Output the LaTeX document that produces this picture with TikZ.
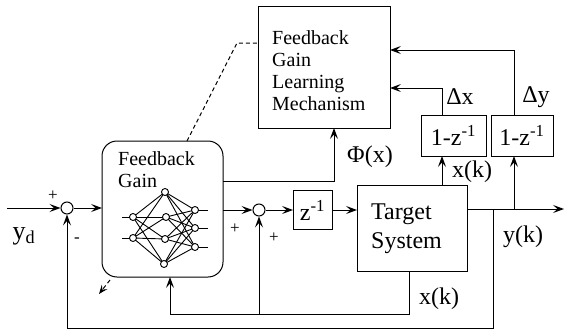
\documentclass[tikz,border=0pt]{standalone}
\usepackage{fontspec}
\setmainfont{Liberation Serif}
\usetikzlibrary{arrows.meta}
\begin{document}
\begin{tikzpicture}[x=1pt,y=-1pt,
  blk/.style={draw, line width=1pt, inner sep=0pt, outer sep=0pt},
  sumc/.style={draw, circle, minimum size=12pt, inner sep=0pt, line width=1pt, fill=white},
  nnode/.style={draw, circle, minimum size=7pt, inner sep=0pt, fill=white, line width=0.9pt},
  arr/.style={-{Stealth[length=11pt,width=8pt,inset=4.5pt]}, line width=1pt},
  dsh/.style={line width=1pt, dash pattern=on 4pt off 3pt},
  lbl/.style={font=\fontsize{24}{28}\selectfont, inner sep=0pt},
  txt/.style={font=\fontsize{20}{22}\selectfont, align=left, inner sep=0pt, anchor=north west},
  sgn/.style={font=\fontsize{17}{18}\selectfont, inner sep=0pt}
]
\useasboundingbox (0,0) rectangle (565,332);

% blocks
\node[blk, minimum width=132pt, minimum height=122pt] (learn) at (324,67) {};
\node[blk, rounded corners=15pt, minimum width=121pt, minimum height=136pt] (nn) at (162.5,209) {};
\node[blk, minimum width=39pt, minimum height=39pt, font=\fontsize{24}{28}\selectfont] (zb) at (312.5,210) {z\textsuperscript{-1}};
\node[blk, minimum width=110pt, minimum height=86pt] (tg) at (412,228) {};
\node[blk, minimum width=65pt, minimum height=41pt, font=\fontsize{24}{28}\selectfont] (dx) at (453.5,135.5) {1-z\textsuperscript{-1}};
\node[blk, minimum width=62pt, minimum height=41pt, font=\fontsize{24}{28}\selectfont] (dy) at (522,135.5) {1-z\textsuperscript{-1}};
\node[sumc] (s1) at (67,208) {};
\node[sumc] (s2) at (259,210) {};

% block texts
\node[txt] (tlearn) at (272,30) {Feedback\\Gain\\Learning\\Mechanism};
\node[txt] (tnn) at (118,151) {Feedback\\Gain};
\node[txt, font=\fontsize{24}{29}\selectfont] (ttg) at (371,204) {Target\\System};

% neural net
\coordinate (i1) at (133,217);
\coordinate (i2) at (133,238);
\coordinate (h1) at (165,192);
\coordinate (h2) at (166,217);
\coordinate (h3) at (165,239);
\coordinate (h4) at (164,264);
\coordinate (o1) at (195,210);
\coordinate (o2) at (195,228);
\coordinate (o3) at (195,247);
\coordinate (a1) at (122,217);
\coordinate (a2) at (122,238);
\coordinate (b1) at (208,210);
\coordinate (b2) at (208,228);
\coordinate (b3) at (208,247);
\foreach \i in {i1,i2} \foreach \h in {h1,h2,h3,h4} \draw[line width=0.9pt] (\i) -- (\h);
\foreach \h in {h1,h2,h3,h4} \foreach \o in {o1,o2,o3} \draw[line width=0.9pt] (\h) -- (\o);
\draw[line width=0.9pt] (a1) -- (i1);
\draw[line width=0.9pt] (a2) -- (i2);
\draw[line width=0.9pt] (o1) -- (b1);
\draw[line width=0.9pt] (o2) -- (b2);
\draw[line width=0.9pt] (o3) -- (b3);
\foreach \n in {i1,i2,h1,h2,h3,h4,o1,o2,o3}
  \node[nnode] (n\n) at (\n) {};

% coordinates
\coordinate (yin) at (7,208);
\coordinate (yout) at (564,209);
\coordinate (by) at (514,209);
\coordinate (bfb) at (493,209);
\coordinate (fbc) at (493,328);
\coordinate (xk1) at (409,314);
\coordinate (xu) at (442,0);
\coordinate (ly) at (0,50);
\coordinate (lx) at (0,88);
\coordinate (phi) at (0,181);
\coordinate (dk) at (237,43);
\coordinate (da) at (110,280);
\coordinate (db) at (99,294);

% connectors
\draw[arr] (yin) -- (s1);
\draw[arr] (s1) -- (nn.west |- s1);
\draw[arr] (nn.east |- s2) -- (s2);
\draw[arr] (s2) -- (zb);
\draw[arr] (zb) -- (tg.west |- zb);
\draw[arr] (tg.east |- yout) -- (yout);
\draw[arr] (by) -- (dy.south -| by);
\draw[arr] (dy.north -| by) |- (learn.east |- ly);
\draw[arr] (tg.north -| xu) -- (dx.south -| xu);
\draw[arr] (dx.north -| xu) |- (learn.east |- lx);
\draw[arr] (bfb) -- (fbc) -| (s1.south);
\draw[arr] (tg.south -| xk1) -- (xk1) -| ([xshift=7.5pt]nn.south);
\draw[arr] (s2 |- xk1) -- (s2.south);
\draw[arr] (nn.east |- phi) -| ([xshift=10pt]learn.south);
\draw[dsh] ([xshift=24.5pt]nn.north) -- (dk) -- (learn.west |- dk);
\draw[dsh, -{Stealth[length=9pt,width=7pt,inset=3.5pt]}] (da) -- (db);

% labels
\node[lbl] (lphi) at (370,157) {Φ(x)};
\node[lbl] (ldx) at (460,97) {Δx};
\node[lbl] (ldy) at (536,97) {Δy};
\node[lbl] (lxu) at (472,172) {x(k)};
\node[lbl] (lyk) at (523,237) {y(k)};
\node[lbl] (lxl) at (439,299) {x(k)};
\node[lbl, font=\fontsize{26}{28}\selectfont] (lyd) at (24,236) {y\textsubscript{d}};
\node[sgn] (p1) at (53,196) {+};
\node[sgn] (m1) at (77,240) {-};
\node[sgn] (p2) at (235,229) {+};
\node[sgn] (p3) at (274,238) {+};
\end{tikzpicture}
\end{document}
